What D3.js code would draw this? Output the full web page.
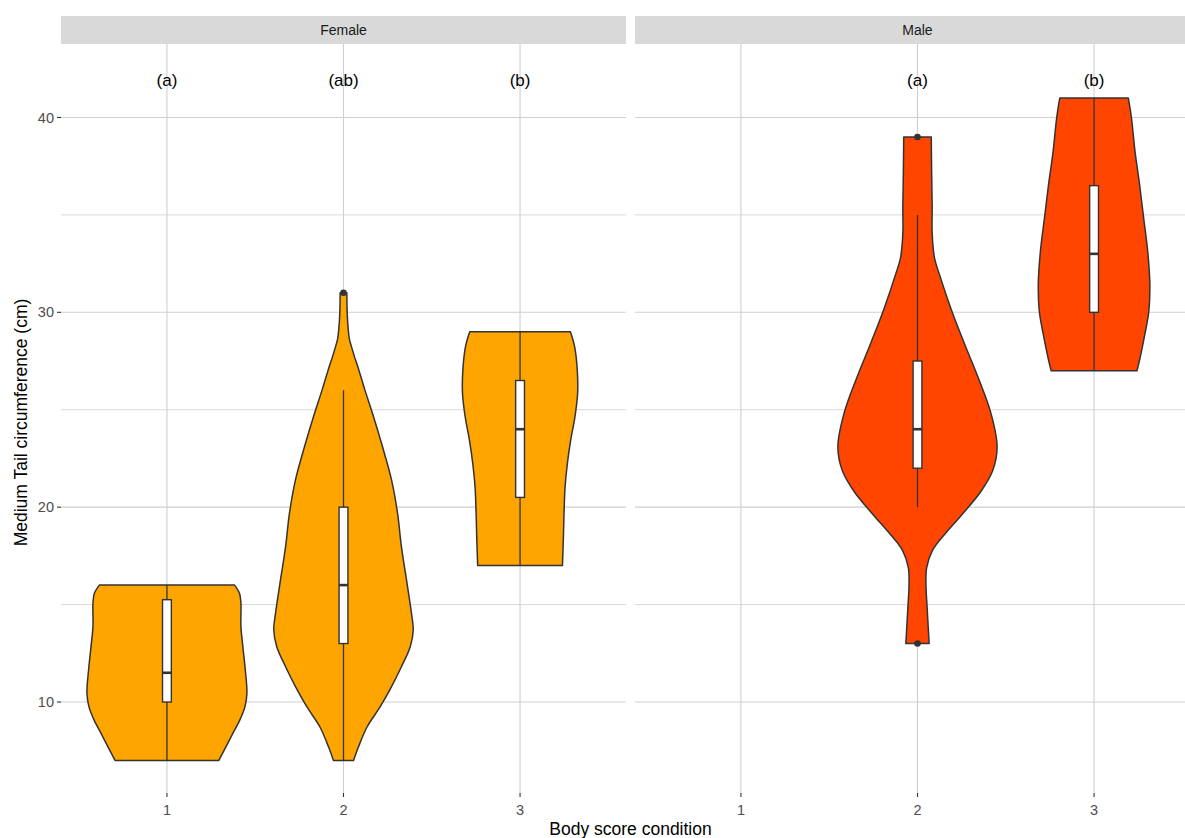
<!DOCTYPE html>
<html>
<head>
<meta charset="utf-8">
<script src="https://cdn.jsdelivr.net/npm/d3@7/dist/d3.min.js"></script>
<style>
  html, body { margin: 0; padding: 0; background: #ffffff; }
  svg { display: block; }
  text { font-family: "Liberation Sans", Arial, Helvetica, sans-serif; }
</style>
</head>
<body>
<svg id="chart" width="1185" height="838"></svg>
<script>
// ---------------- data ----------------
const categories = ["1", "2", "3"];
const facets = ["Female", "Male"];
const facetFill = ["#FFA500", "#FF4500"];
const yTicks = [10, 20, 30, 40];
const yMinorTicks = [15, 25, 35];

// violin outlines: [value (cm), half width in category units]
const violinF1 = [[16.0,.383],[15.58,.411],[15.07,.419],[13.87,.419],[12.84,.430],[11.81,.442],[10.45,.453],[9.76,.442],[9.08,.413],[8.4,.374],[7.7,.334],[7.0,.294]];
const violinF2 = [[31.0,.019],[29.95,.021],[29.1,.027],[28.6,.034],[28.24,.045],[27.7,.063],[27.21,.081],[26.02,.121],[24.82,.164],[23.1,.221],[21.4,.272],[19.69,.306],[17.97,.328],[16.26,.357],[14.55,.385],[13.7,.395],[12.84,.378],[11.81,.328],[10.79,.272],[9.76,.208],[8.73,.134],[7.7,.085],[7.0,.057]];
const violinF3 = [[29.0,.285],[28.24,.309],[27.04,.324],[25.85,.326],[24.65,.311],[23.45,.287],[22.25,.268],[21.05,.255],[19.69,.249],[18.32,.245],[17.0,.240]];
const violinM2 = [[39.0,.078],[37.22,.080],[35.46,.083],[34.05,.083],[32.81,.096],[31.92,.125],[30.15,.191],[28.39,.266],[26.62,.345],[24.85,.415],[23.09,.451],[21.85,.425],[20.79,.358],[19.55,.245],[18.67,.160],[17.78,.085],[16.9,.052],[16.01,.048],[14.77,.055],[13.0,.066]];
const violinM3 = [[41.0,.194],[39.96,.212],[38.25,.232],[36.54,.258],[34.83,.281],[33.12,.304],[31.41,.316],[30.04,.310],[28.84,.287],[27.64,.260],[27.0,.243]];

// boxplot stats: [lower whisker, q1, median, q3, upper whisker]
const boxF1 = [7, 10, 11.5, 15.25, 16];
const boxF2 = [7, 13, 16, 20, 26];
const boxF3 = [17, 20.5, 24, 26.5, 29];
const boxM2 = [20, 22, 24, 27.5, 35];
const boxM3 = [27, 30, 33, 36.5, 41];
const outliersF2 = [31];
const outliersM2 = [13, 39];

const lettersFemale = ["(a)", "(ab)", "(b)"];
const lettersMale = [null, "(a)", "(b)"];
const letterValue = 42;

const groups = [
  { facet: "Female", cat: "1", violin: violinF1, box: boxF1, out: [] },
  { facet: "Female", cat: "2", violin: violinF2, box: boxF2, out: outliersF2 },
  { facet: "Female", cat: "3", violin: violinF3, box: boxF3, out: [] },
  { facet: "Male",   cat: "2", violin: violinM2, box: boxM2, out: outliersM2 },
  { facet: "Male",   cat: "3", violin: violinM3, box: boxM3, out: [] }
];

// ---------------- layout ----------------
const panelTop = 44, panelBottom = 793;
const panelLefts = [61, 635];
const panelW = 565;
const stripTop = 16;
const boxWidth = 0.05;
const ink = "#333333";

const svg = d3.select("#chart");
const y = d3.scaleLinear().domain([5.33, 43.77]).range([panelBottom, panelTop]);

// y axis tick labels & ticks (left panel only)
const yAxisG = svg.append("g");
yTicks.forEach(t => {
  yAxisG.append("line").attr("x1", panelLefts[0] - 4).attr("x2", panelLefts[0])
    .attr("y1", y(t)).attr("y2", y(t)).attr("stroke", ink).attr("stroke-width", 1.1);
  yAxisG.append("text").attr("x", panelLefts[0] - 7).attr("y", y(t))
    .attr("dy", "0.35em").attr("text-anchor", "end")
    .attr("font-size", 14.5).attr("fill", "#4D4D4D").text(t);
});

facets.forEach((f, fi) => {
  const x0 = panelLefts[fi];
  const x = d3.scalePoint().domain(categories).range([x0, x0 + panelW]).padding(0.6);
  const step = x.step();
  const g = svg.append("g");

  // strip
  g.append("rect").attr("x", x0).attr("y", stripTop).attr("width", panelW)
    .attr("height", panelTop - stripTop).attr("fill", "#D9D9D9");
  g.append("text").attr("x", x0 + panelW / 2).attr("y", (stripTop + panelTop) / 2)
    .attr("dy", "0.35em").attr("text-anchor", "middle").attr("font-size", 14)
    .attr("fill", "#1A1A1A").text(f);

  // grid
  yMinorTicks.forEach(t => g.append("line").attr("x1", x0).attr("x2", x0 + panelW)
    .attr("y1", y(t)).attr("y2", y(t)).attr("stroke", "#DADADA").attr("stroke-width", 1));
  yTicks.forEach(t => g.append("line").attr("x1", x0).attr("x2", x0 + panelW)
    .attr("y1", y(t)).attr("y2", y(t)).attr("stroke", "#CFCFCF").attr("stroke-width", 1.1));
  categories.forEach(c => g.append("line").attr("x1", x(c)).attr("x2", x(c))
    .attr("y1", panelTop).attr("y2", panelBottom).attr("stroke", "#CFCFCF").attr("stroke-width", 1.1));

  // x ticks + labels
  categories.forEach(c => {
    g.append("line").attr("x1", x(c)).attr("x2", x(c)).attr("y1", panelBottom).attr("y2", panelBottom + 4)
      .attr("stroke", ink).attr("stroke-width", 1.1);
    g.append("text").attr("x", x(c)).attr("y", panelBottom + 22).attr("text-anchor", "middle")
      .attr("font-size", 14.5).attr("fill", "#4D4D4D").text(c);
  });

  // violins + boxes
  groups.filter(d => d.facet === f).forEach(d => {
    const cx = x(d.cat);
    const area = d3.area()
      .y(p => y(p[0]))
      .x0(p => cx - p[1] * step)
      .x1(p => cx + p[1] * step)
      .curve(d3.curveCatmullRom.alpha(0.5));
    g.append("path").attr("d", area(d.violin)).attr("fill", facetFill[fi])
      .attr("stroke", ink).attr("stroke-width", 1.5).attr("stroke-linejoin", "round");

    const [lo, q1, med, q3, hi] = d.box;
    const bw = boxWidth * step;
    g.append("line").attr("x1", cx).attr("x2", cx).attr("y1", y(hi)).attr("y2", y(q3))
      .attr("stroke", ink).attr("stroke-width", 1.3);
    g.append("line").attr("x1", cx).attr("x2", cx).attr("y1", y(q1)).attr("y2", y(lo))
      .attr("stroke", ink).attr("stroke-width", 1.3);
    g.append("rect").attr("x", cx - bw / 2).attr("y", y(q3)).attr("width", bw)
      .attr("height", y(q1) - y(q3)).attr("fill", "#ffffff").attr("stroke", ink).attr("stroke-width", 1.4);
    g.append("line").attr("x1", cx - bw / 2).attr("x2", cx + bw / 2).attr("y1", y(med)).attr("y2", y(med))
      .attr("stroke", ink).attr("stroke-width", 2.6);
    d.out.forEach(o => g.append("circle").attr("cx", cx).attr("cy", y(o)).attr("r", 3.3).attr("fill", ink));
  });

  // significance letters
  const letters = fi === 0 ? lettersFemale : lettersMale;
  categories.forEach((c, i) => {
    if (!letters[i]) return;
    g.append("text").attr("x", x(c)).attr("y", y(letterValue)).attr("dy", "0.42em")
      .attr("text-anchor", "middle").attr("font-size", 17).attr("fill", "#000000").text(letters[i]);
  });
});

// axis titles
svg.append("text").attr("x", (panelLefts[0] + panelLefts[1] + panelW) / 2).attr("y", 835)
  .attr("text-anchor", "middle").attr("font-size", 17.5).attr("fill", "#000000").text("Body score condition");
svg.append("text").attr("transform", `translate(27,${(panelTop + panelBottom) / 2 + 4}) rotate(-90)`)
  .attr("text-anchor", "middle").attr("font-size", 17.5).attr("fill", "#000000").text("Medium Tail circumference (cm)");
</script>
</body>
</html>
